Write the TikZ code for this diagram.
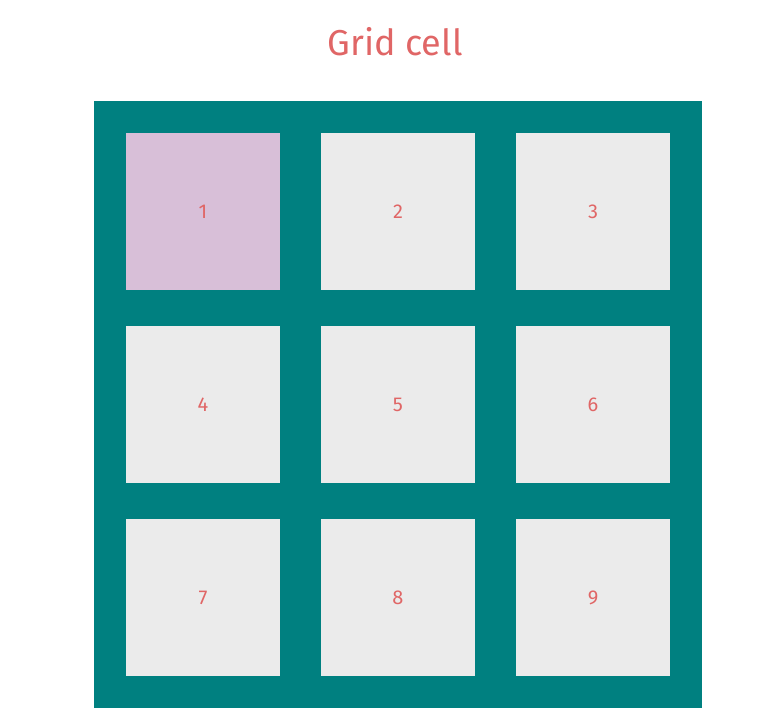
\documentclass[tikz,border=0pt]{standalone}
\usepackage{fontspec}
\setmainfont{Fira Sans}
\definecolor{gridteal}{HTML}{008080}
\definecolor{cellgray}{HTML}{EBEBEB}
\definecolor{cellpink}{HTML}{D8BFD8}
\definecolor{labelred}{HTML}{E06666}
\begin{document}
\begin{tikzpicture}[x=1pt,y=-1pt,
    cellbox/.style={fill=cellgray,draw=none,minimum width=154pt,minimum height=157pt,
        inner sep=0pt,text=labelred,font=\fontsize{20}{24}\selectfont},
    firstbox/.style={cellbox,fill=cellpink}]
    \useasboundingbox (0,0) rectangle (783,716);
    % title
    \node[text=labelred,font=\fontsize{36}{42}\selectfont] (title) at (395,42) {Grid cell};
    % container
    \fill[gridteal] (94,101) rectangle (702,708);
    % cells
    \foreach \r in {0,1,2}{
        \foreach \c in {0,1,2}{
            \pgfmathtruncatemacro{\n}{3*\r+\c+1}
            \ifnum\n=1
                \node[firstbox] (cell\n) at ({203+195*\c},{211.5+193*\r}) {\n};
            \else
                \node[cellbox] (cell\n) at ({203+195*\c},{211.5+193*\r}) {\n};
            \fi
        }
    }
\end{tikzpicture}
\end{document}
